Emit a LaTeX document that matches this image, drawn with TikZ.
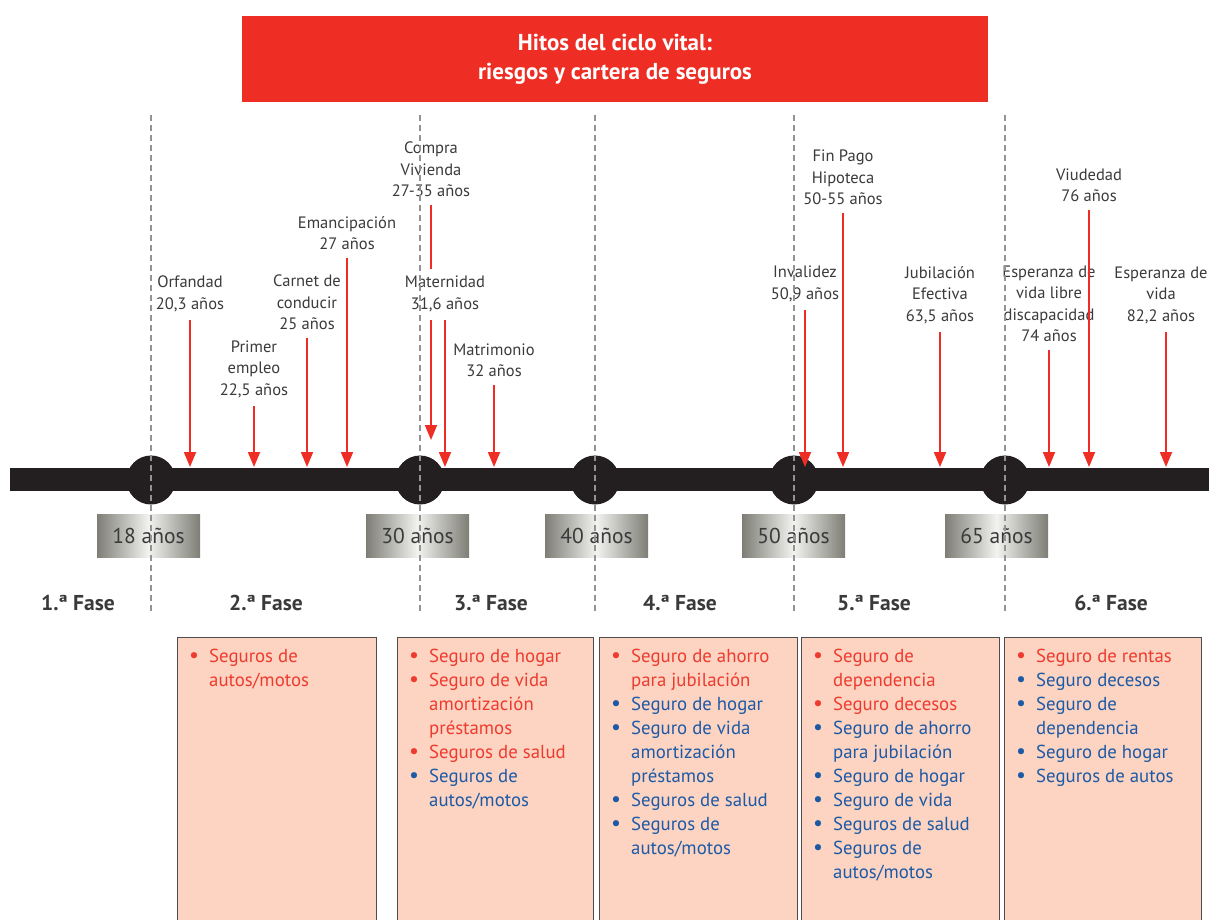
\documentclass[tikz,border=0pt]{standalone}
\usepackage{fontspec}
\setmainfont{PT Sans}
\usetikzlibrary{arrows.meta,positioning}

\definecolor{rojo}{HTML}{EE2E24}
\definecolor{rojotxt}{HTML}{EE3B2F}
\definecolor{azul}{HTML}{1C5AA6}
\definecolor{rosa}{HTML}{FDD3C1}
\definecolor{borde}{HTML}{4D4D4D}
\definecolor{negro}{HTML}{231F20}
\definecolor{gristxt}{HTML}{3A3A3A}
\definecolor{gris1}{HTML}{7E7E76}
\definecolor{gris2}{HTML}{F2F2F0}

% one bullet row of a box
\newcommand{\seg}[2]{\leavevmode{\color{#1}\raisebox{-0.5pt}{\fontsize{22}{24}\selectfont\textbullet}} & \leavevmode{\color{#1}#2}\\}
\newenvironment{seguros}{\begin{tabular}{@{}p{20pt}@{}p{165pt}@{}}}{\end{tabular}}

\begin{document}
\begin{tikzpicture}[x=1pt,y=-1pt,
  titulo/.style={fill=rojo,text=white,minimum width=746pt,minimum height=86pt,align=center,
    font=\bfseries\fontsize{23}{29}\selectfont},
  hito/.style={align=center,text=gristxt,font=\fontsize{16.5}{21.5}\selectfont,inner sep=0pt},
  flecha/.style={draw=rojo,line width=1.8pt,-{Triangle[width=12pt,length=15pt]}},
  guia/.style={draw=gray!85,line width=1.1pt,dash pattern=on 6pt off 4pt},
  edad/.style={minimum width=103pt,minimum height=43pt,inner sep=0pt,text=gristxt,
    font=\fontsize{21.5}{24}\selectfont,left color=gris1,right color=gris1,middle color=gris2},
  fase/.style={font=\bfseries\fontsize{21.5}{24}\selectfont,text=gristxt,inner sep=0pt},
  caja/.style={draw=borde,line width=1.4pt,fill=rosa,anchor=north west,minimum height=300pt,inner sep=0pt},
  lista/.style={anchor=north west,inner sep=0pt,font=\fontsize{18.8}{24}\selectfont}]
\useasboundingbox (0,0) rectangle (1209,920);

% title
\node[titulo] (titulo) at (615,59) {Hitos del ciclo vital:\\riesgos y cartera de seguros};

% time line
\fill[negro] (10,468) rectangle (1215,491);
\coordinate (eje) at (0,467);
\foreach \x/\n in {151/18,420/30,595/40,794/50,1005/65}{
  \coordinate (c\n) at (\x,480);
  \fill[negro] (c\n) circle (24.5pt);
}

% ages
\node[edad] (e18) at (148.5,535.5) {18 años};
\node[edad] (e30) at (417.5,535.5) {30 años};
\node[edad] (e40) at (596.5,535.5) {40 años};
\node[edad] (e50) at (793.5,535.5) {50 años};
\node[edad] (e65) at (996.5,535.5) {65 años};

% phases
\node[fase] (f1) at (78,603) {1.ª Fase};
\node[fase] (f2) at (266,603) {2.ª Fase};
\node[fase] (f3) at (491,603) {3.ª Fase};
\node[fase] (f4) at (680,603) {4.ª Fase};
\node[fase] (f5) at (874,603) {5.ª Fase};
\node[fase] (f6) at (1111,603) {6.ª Fase};

% milestones
\coordinate (a-orf) at (190,320);
\node[hito,above=8pt of a-orf] (orfandad) {Orfandad\\20,3 años};
\draw[flecha] (a-orf) -- (a-orf |- eje);

\coordinate (a-emp) at (254,406);
\node[hito,above=8pt of a-emp] (empleo) {Primer\\empleo\\22,5 años};
\draw[flecha] (a-emp) -- (a-emp |- eje);

\coordinate (a-car) at (307,338);
\node[hito,above=8pt of a-car] (carnet) {Carnet de\\conducir\\25 años};
\draw[flecha] (a-car) -- (a-car |- eje);

\coordinate (a-ema) at (347,258);
\node[hito,above=8pt of a-ema] (emancipacion) {Emancipación\\27 años};
\draw[flecha] (a-ema) -- (a-ema |- eje);

\coordinate (a-mat) at (445,320);
\node[hito,above=8pt of a-mat] (maternidad) {Maternidad\\31,6 años};
\draw[flecha] (a-mat) -- (a-mat |- eje);

\coordinate (a-viv) at (431,205);
\coordinate (fin-viv) at (431,440);
\node[hito,above=8pt of a-viv] (vivienda) {Compra\\Vivienda\\27-35 años};
\draw[draw=rojo,line width=1.8pt,shorten >=7pt] (a-viv) -- (a-viv |- maternidad.north);
\draw[flecha,shorten <=8pt] (a-viv |- maternidad.south) -- (fin-viv);

\coordinate (a-matr) at (494,385);
\node[hito,above=8pt of a-matr] (matrimonio) {Matrimonio\\32 años};
\draw[flecha] (a-matr) -- (a-matr |- eje);

\coordinate (a-inv) at (805,310);
\node[hito,above=8pt of a-inv] (invalidez) {Invalidez\\50,9 años};
\draw[flecha] (a-inv) -- (a-inv |- eje);

\coordinate (a-hip) at (843,213);
\node[hito,above=8pt of a-hip] (hipoteca) {Fin Pago\\Hipoteca\\50-55 años};
\draw[flecha] (a-hip) -- (a-hip |- eje);

\coordinate (a-jub) at (940,332);
\node[hito,above=8pt of a-jub] (jubilacion) {Jubilación\\Efectiva\\63,5 años};
\draw[flecha] (a-jub) -- (a-jub |- eje);

\coordinate (a-evl) at (1049,350);
\node[hito,above=8pt of a-evl] (libre) {Esperanza de\\vida libre\\discapacidad\\74 años};
\draw[flecha] (a-evl) -- (a-evl |- eje);

\coordinate (a-viu) at (1089,210);
\node[hito,above=8pt of a-viu] (viudedad) {Viudedad\\76 años};
\draw[flecha] (a-viu) -- (a-viu |- eje);

\coordinate (a-ev) at (1166,332);
\node[hito,above=8pt of a-ev,xshift=-5pt] (esperanza) {Esperanza de\\vida\\82,2 años};
\draw[flecha] (a-ev) -- (a-ev |- eje);

% insurance boxes
\node[caja,minimum width=199pt] (caja2) at (177,637) {};
\node[caja,minimum width=196pt] (caja3) at (397,637) {};
\node[caja,minimum width=198pt] (caja4) at (599,637) {};
\node[caja,minimum width=198pt] (caja5) at (801,637) {};
\node[caja,minimum width=197pt] (caja6) at (1004,637) {};

\node[lista] (l2) at ([xshift=12pt,yshift=-8pt]caja2.north west)
  {\begin{seguros}
   \seg{rojotxt}{Seguros de\newline autos/motos}
   \end{seguros}};
\node[lista] (l3) at ([xshift=12pt,yshift=-8pt]caja3.north west)
  {\begin{seguros}
   \seg{rojotxt}{Seguro de hogar}
   \seg{rojotxt}{Seguro de vida\newline amortización\newline préstamos}
   \seg{rojotxt}{Seguros de salud}
   \seg{azul}{Seguros de\newline autos/motos}
   \end{seguros}};
\node[lista] (l4) at ([xshift=12pt,yshift=-8pt]caja4.north west)
  {\begin{seguros}
   \seg{rojotxt}{Seguro de ahorro\newline para jubilación}
   \seg{azul}{Seguro de hogar}
   \seg{azul}{Seguro de vida\newline amortización\newline préstamos}
   \seg{azul}{Seguros de salud}
   \seg{azul}{Seguros de\newline autos/motos}
   \end{seguros}};
\node[lista] (l5) at ([xshift=12pt,yshift=-8pt]caja5.north west)
  {\begin{seguros}
   \seg{rojotxt}{Seguro de\newline dependencia}
   \seg{rojotxt}{Seguro decesos}
   \seg{azul}{Seguro de ahorro\newline para jubilación}
   \seg{azul}{Seguro de hogar}
   \seg{azul}{Seguro de vida}
   \seg{azul}{Seguros de salud}
   \seg{azul}{Seguros de\newline autos/motos}
   \end{seguros}};
\node[lista] (l6) at ([xshift=12pt,yshift=-8pt]caja6.north west)
  {\begin{seguros}
   \seg{rojotxt}{Seguro de rentas}
   \seg{azul}{Seguro decesos}
   \seg{azul}{Seguro de\newline dependencia}
   \seg{azul}{Seguro de hogar}
   \seg{azul}{Seguros de autos}
   \end{seguros}};

% dashed guides
\foreach \n in {18,30,40,50,65}
  \draw[guia] (c\n |- titulo.south) ++(0,13) -- (c\n |- f1.south);

\end{tikzpicture}
\end{document}
